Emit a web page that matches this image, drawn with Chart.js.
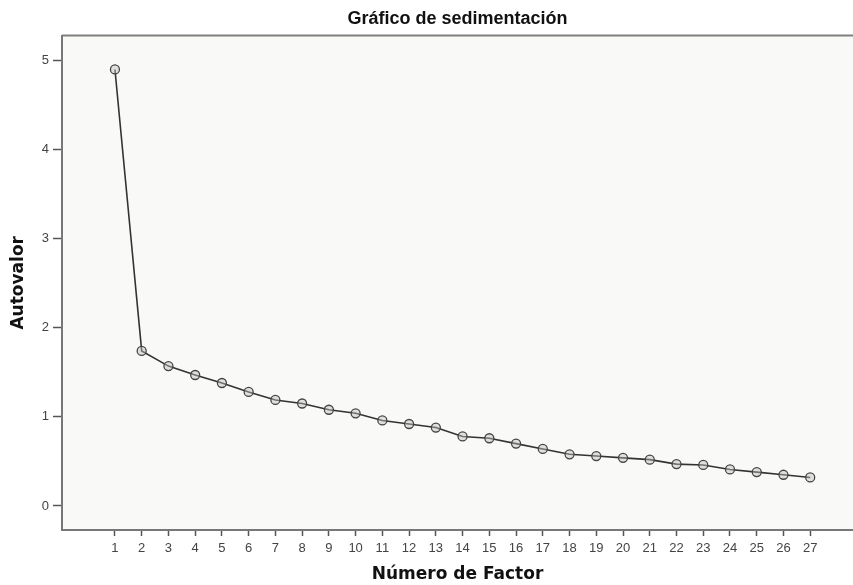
<!DOCTYPE html>
<html>
<head>
<meta charset="utf-8">
<script src="https://cdn.jsdelivr.net/npm/chart.js@4/dist/chart.umd.min.js"></script>
<style>
  body { margin: 0; background: #fff; }
</style>
</head>
<body>
<canvas id="screeChart" width="853" height="585"></canvas>
<script>
const factors = [1, 2, 3, 4, 5, 6, 7, 8, 9, 10, 11, 12, 13, 14, 15, 16, 17, 18, 19, 20, 21, 22, 23, 24, 25, 26, 27];
const eigenvalues = [4.90, 1.74, 1.57, 1.47, 1.38, 1.28, 1.19, 1.15, 1.08, 1.04, 0.96, 0.92, 0.88, 0.78, 0.76, 0.70, 0.64, 0.58, 0.56, 0.54, 0.52, 0.47, 0.46, 0.41, 0.38, 0.35, 0.32];
const xTicks = factors;
const yTicks = [0, 1, 2, 3, 4, 5];

// plot background + top frame line
const frame = {
    id: "frame",
    beforeDraw(chart) {
        const { ctx, chartArea: a } = chart;
        ctx.save();
        ctx.fillStyle = "#f9f9f7";
        ctx.fillRect(a.left, a.top, a.right - a.left, a.bottom - a.top);
        ctx.strokeStyle = "#808080";
        ctx.lineWidth = 2;
        ctx.beginPath();
        ctx.moveTo(a.left, a.top);
        ctx.lineTo(a.right, a.top);
        ctx.stroke();
        ctx.restore();
    }
};

new Chart(document.getElementById("screeChart"), {
    type: "line",
    data: {
        datasets: [{
            data: factors.map((f, i) => ({ x: f, y: eigenvalues[i] })),
            borderColor: "#333",
            borderWidth: 1.6,
            pointRadius: 4.5,
            pointBorderWidth: 1.3,
            pointBorderColor: "#444",
            pointBackgroundColor: "rgba(190,190,190,0.45)",
            tension: 0
        }]
    },
    options: {
        responsive: false,
        animation: false,
        layout: { padding: 0, autoPadding: false },
        plugins: {
            legend: { display: false },
            tooltip: { enabled: false },
            title: {
                display: true,
                text: "Gráfico de sedimentación",
                fullSize: false,
                color: "#111",
                font: { family: "Liberation Sans", size: 18, weight: "bold" },
                padding: { top: 8, bottom: 6 }
            }
        },
        scales: {
            x: {
                type: "linear",
                min: -0.98,
                max: 28.6,
                afterBuildTicks: s => { s.ticks = xTicks.map(v => ({ value: v })); },
                afterFit: s => { s.height = 55; s.paddingLeft = 0; s.paddingRight = 0; },
                ticks: {
                    color: "#444",
                    font: { family: "Liberation Sans", size: 13 },
                    padding: 5,
                    maxRotation: 0,
                    autoSkip: false
                },
                grid: { drawOnChartArea: false, tickLength: 6, tickColor: "#555", tickWidth: 1.5 },
                border: { display: true, color: "#777", width: 2 },
                title: {
                    display: true,
                    text: "Número de Factor",
                    color: "#111",
                    font: { family: "DejaVu Sans", size: 17, weight: "bold" },
                    padding: { top: 0, bottom: 0 }
                }
            },
            y: {
                min: -0.27,
                max: 5.28,
                afterBuildTicks: s => { s.ticks = yTicks.map(v => ({ value: v })); },
                afterFit: s => { s.width = 62; },
                ticks: {
                    color: "#444",
                    font: { family: "Liberation Sans", size: 13 },
                    padding: 4
                },
                grid: { drawOnChartArea: false, tickLength: 9, tickColor: "#555", tickWidth: 1.5 },
                border: { display: true, color: "#777", width: 2 },
                title: {
                    display: true,
                    text: "Autovalor",
                    color: "#111",
                    font: { family: "DejaVu Sans", size: 17, weight: "bold" },
                    padding: { top: 8, bottom: 0 }
                }
            }
        }
    },
    plugins: [frame]
});
</script>
</body>
</html>
